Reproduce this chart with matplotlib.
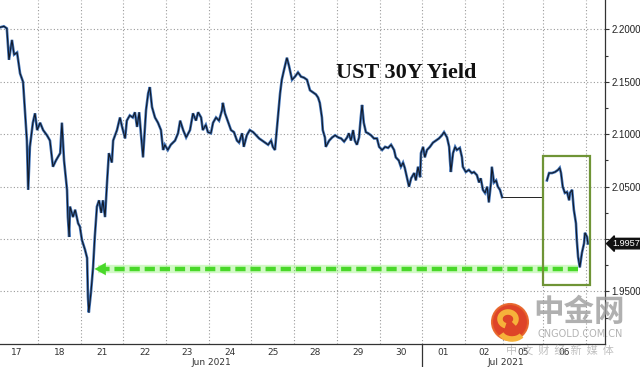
import numpy as np
import matplotlib
matplotlib.use("Agg")
import matplotlib.pyplot as plt
from matplotlib.patches import Rectangle, Circle, Arc
from matplotlib.transforms import blended_transform_factory

# ---- data (x = trading-session index, y = yield %) ----
day_labels = ["17", "18", "21", "22", "23", "24", "25", "28", "29", "30",
              "01", "02", "05", "06"]
day_edges = [0.11, 1, 2, 3, 4, 5, 6, 7, 8, 9, 9.99, 11, 11.89, 12.83, 13.83]
month_labels = ["Jun 2021", "Jul 2021"]
month_centers = [5.05, 11.96]
month_break = 9.99

x_main = [0.11, 0.20, 0.27, 0.32, 0.39, 0.44, 0.51, 0.58, 0.65, 0.74, 0.77, 0.81,
          0.88, 0.93, 0.98, 1.05, 1.12, 1.21, 1.28, 1.35, 1.42, 1.52, 1.56, 1.61,
          1.68, 1.70, 1.73, 1.75, 1.82, 1.87, 1.94, 1.98, 2.03, 2.10, 2.15, 2.17,
          2.19, 2.24, 2.29, 2.33, 2.38, 2.43, 2.48, 2.52, 2.57, 2.62, 2.66, 2.73,
          2.76, 2.85, 2.92, 2.97, 3.04, 3.08, 3.15, 3.22, 3.27, 3.32, 3.37, 3.41,
          3.46, 3.53, 3.58, 3.62, 3.67, 3.74, 3.81, 3.88, 3.93, 3.97, 4.04, 4.11,
          4.21, 4.28, 4.33, 4.40, 4.47, 4.56, 4.63, 4.70, 4.75, 4.82, 4.86, 4.93,
          4.98, 5.05, 5.10, 5.17, 5.24, 5.31, 5.33, 5.38, 5.45, 5.52, 5.59, 5.66,
          5.71, 5.78, 5.82, 5.89, 5.96, 6.04, 6.11, 6.18, 6.25, 6.32, 6.39, 6.46,
          6.50, 6.55, 6.57, 6.62, 6.67, 6.71, 6.76, 6.83, 6.88, 6.95, 7.02, 7.09,
          7.16, 7.23, 7.30, 7.37, 7.44, 7.51, 7.56, 7.60, 7.65, 7.67, 7.72, 7.74,
          7.82, 7.89, 7.96, 8.03, 8.10, 8.17, 8.24, 8.28, 8.33, 8.38, 8.42, 8.47,
          8.52, 8.56, 8.59, 8.63, 8.68, 8.73, 8.80, 8.87, 8.94, 8.99, 9.06, 9.13,
          9.20, 9.27, 9.34, 9.38, 9.45, 9.50, 9.55, 9.59, 9.64, 9.69, 9.74, 9.81,
          9.85, 9.90, 9.95, 9.97, 10.02, 10.06, 10.11, 10.18, 10.25, 10.32, 10.39,
          10.46, 10.51, 10.58, 10.63, 10.65, 10.67, 10.72, 10.77, 10.81, 10.88,
          10.93, 10.95, 11.02, 11.09, 11.16, 11.21, 11.28, 11.33, 11.37, 11.42,
          11.47, 11.52, 11.56, 11.61, 11.63, 11.68, 11.73, 11.77, 11.82, 11.87]
y_main = [2.202, 2.203, 2.201, 2.171, 2.190, 2.176, 2.178, 2.158, 2.150, 2.094,
          2.047, 2.088, 2.111, 2.120, 2.104, 2.111, 2.104, 2.099, 2.094, 2.069,
          2.075, 2.082, 2.111, 2.075, 2.047, 2.021, 2.002, 2.031, 2.021, 2.028,
          2.015, 2.012, 1.999, 1.990, 1.982, 1.945, 1.930, 1.949, 1.973, 2.002,
          2.031, 2.037, 2.025, 2.037, 2.021, 2.056, 2.082, 2.073, 2.094, 2.104,
          2.116, 2.107, 2.096, 2.113, 2.118, 2.116, 2.121, 2.107, 2.121, 2.101,
          2.078, 2.123, 2.139, 2.145, 2.126, 2.116, 2.111, 2.104, 2.085, 2.090,
          2.085, 2.090, 2.094, 2.101, 2.113, 2.104, 2.097, 2.104, 2.120, 2.113,
          2.121, 2.116, 2.104, 2.109, 2.102, 2.101, 2.111, 2.116, 2.113, 2.123,
          2.130, 2.120, 2.112, 2.104, 2.102, 2.094, 2.092, 2.101, 2.088, 2.099,
          2.104, 2.102, 2.099, 2.096, 2.094, 2.092, 2.090, 2.094, 2.088, 2.085,
          2.094, 2.116, 2.139, 2.152, 2.161, 2.173, 2.165, 2.152, 2.155, 2.159,
          2.155, 2.154, 2.152, 2.142, 2.140, 2.138, 2.135, 2.130, 2.116, 2.104,
          2.097, 2.088, 2.094, 2.097, 2.099, 2.097, 2.096, 2.093, 2.097, 2.101,
          2.094, 2.104, 2.094, 2.090, 2.097, 2.116, 2.128, 2.111, 2.102, 2.101,
          2.099, 2.096, 2.096, 2.088, 2.085, 2.088, 2.087, 2.090, 2.085, 2.078,
          2.075, 2.069, 2.073, 2.068, 2.059, 2.050, 2.058, 2.063, 2.056, 2.069,
          2.059, 2.082, 2.088, 2.078, 2.085, 2.088, 2.092, 2.094, 2.096, 2.099,
          2.102, 2.097, 2.088, 2.075, 2.064, 2.082, 2.088, 2.085, 2.087, 2.078,
          2.069, 2.064, 2.066, 2.063, 2.064, 2.061, 2.054, 2.058, 2.047, 2.044,
          2.050, 2.035, 2.054, 2.069, 2.054, 2.056, 2.050, 2.047, 2.040]
# US holiday (Jul 5): flat, thin carry-forward line
x_flat = [11.87, 12.83]
y_flat = [2.040, 2.040]
x_jul6 = [12.92, 12.97, 13.04, 13.11, 13.18, 13.22, 13.25, 13.29, 13.34, 13.39,
          13.44, 13.46, 13.51, 13.55, 13.60, 13.62, 13.65, 13.69, 13.74, 13.79,
          13.81, 13.86, 13.88]
y_jul6 = [2.056, 2.063, 2.063, 2.064, 2.066, 2.068, 2.063, 2.050, 2.044, 2.045,
          2.037, 2.044, 2.047, 2.028, 2.015, 1.999, 1.983, 1.973, 1.987, 1.996,
          2.006, 2.002, 1.9957]
last_value = 1.9957
arrow_level = 1.9715
arrow_from, arrow_to = 13.65, 2.26
box_x = (12.83, 13.93)
box_y = (1.9562, 2.0793)

yticks = [1.95, 2.00, 2.05, 2.10, 2.15, 2.20]
ylabels = ["1.9500", "", "2.0500", "2.1000", "2.1500", "2.2000"]
yminor = [1.925, 1.975, 2.025, 2.075, 2.125, 2.175]

# ---- figure ----
W, H = 640, 367
fig = plt.figure(figsize=(W / 100, H / 100), dpi=100)
fig.patch.set_facecolor("white")
ax = fig.add_axes([0, 23 / H, 605 / W, 344 / H])
ax.set_facecolor("white")
ax.set_xlim(0.11, 14.28)
ax.set_ylim(1.8999, 2.2281)

for s in ["top", "left"]:
    ax.spines[s].set_visible(False)
for s in ["bottom", "right"]:
    ax.spines[s].set_color("#333333")
    ax.spines[s].set_linewidth(0.9)

grid_kw = dict(color="#9a9a9a", linestyle=(0, (1, 2)), linewidth=0.8, zorder=0)
for yv in yticks:
    ax.axhline(yv, **grid_kw)
for xv in day_edges[1:]:
    ax.axvline(xv, **grid_kw)

# series: blue halo under a dark core line
line_kw = dict(solid_joinstyle="miter", zorder=3)
ax.plot(x_main, y_main, color="#3f72b8", lw=1.9, **line_kw)
ax.plot(x_main, y_main, color="#121a28", lw=0.8, **line_kw)
ax.plot(x_flat, y_flat, color="#222222", lw=0.7, zorder=3)
ax.plot(x_jul6, y_jul6, color="#3f72b8", lw=1.9, **line_kw)
ax.plot(x_jul6, y_jul6, color="#121a28", lw=0.8, **line_kw)

# green dashed arrow with glow
ax.plot([arrow_from, arrow_to + 0.15], [arrow_level, arrow_level],
        color="#7cf05a", lw=6, alpha=0.35, solid_capstyle="butt", zorder=4)
ax.plot([arrow_from, arrow_to + 0.15], [arrow_level, arrow_level],
        color="#49d829", lw=3.2, linestyle=(0, (2.3, 1.1)), zorder=5)
ax.annotate("", xy=(arrow_to, arrow_level), xytext=(arrow_to + 0.3, arrow_level),
            arrowprops=dict(arrowstyle="-|>,head_length=0.8,head_width=0.45",
                            color="#49d829", lw=0.1), zorder=6)

# highlight box
ax.add_patch(Rectangle((box_x[0], box_y[0]), box_x[1] - box_x[0], box_y[1] - box_y[0],
                       fill=False, edgecolor="#6f9436", lw=1.6, zorder=6))

# title
ax.text(7.98, 2.1588, "UST 30Y Yield", family="Liberation Serif",
        fontsize=16, fontweight="bold", color="#111111", ha="left", va="center",
        zorder=7)

# right axis ticks
ax.yaxis.tick_right()
ax.set_yticks(yticks)
ax.set_yticklabels(ylabels)
ax.set_yticks(yminor, minor=True)
ax.tick_params(axis="y", which="major", direction="out", length=3, width=0.8,
               pad=1.5, labelsize=7, labelcolor="#222222", color="#333333")
ax.tick_params(axis="y", which="minor", direction="out", length=2, width=0.8,
               color="#333333")
for lab in ax.get_yticklabels():
    lab.set_family("Liberation Sans")

# last value tag
ax.annotate(f"{last_value:.4f}", xy=(1.0, last_value), xycoords=("axes fraction", "data"),
            xytext=(5, 0), textcoords="offset points", ha="left", va="center",
            fontsize=6.6, color="white", family="Liberation Sans", annotation_clip=False,
            bbox=dict(boxstyle="larrow,pad=0.08", fc="#111111", ec="#111111"))

# x axis: day labels at session centres, month labels below
centers = [(a + b) / 2 for a, b in zip(day_edges[:-1], day_edges[1:])]
centers[0] = 0.5
ax.set_xticks(day_edges[1:])
ax.set_xticklabels([])
ax.tick_params(axis="x", which="major", length=0)
trans = blended_transform_factory(ax.transData, ax.transAxes)
for c, lab in zip(centers, day_labels):
    ax.text(c, -0.024, lab, transform=trans, ha="center", va="center",
            fontsize=6.5, color="#333333", clip_on=False)
for c, lab in zip(month_centers, month_labels):
    ax.text(c, -0.055, lab, transform=trans, ha="center", va="center",
            fontsize=6.5, color="#333333", clip_on=False)
ax.plot([month_break, month_break], [0, -0.07], transform=trans, color="#333333",
        lw=0.9, clip_on=False)

# watermark
fig.patches.append(Circle((510, H - 322), 18, transform=None, fc="#dd3a1c",
                          ec="#e8652a", lw=1.5, alpha=0.95, zorder=8))
fig.patches.append(Arc((508, H - 319), 16, 14, theta1=-40, theta2=250, transform=None,
                       color="#f6b23a", lw=4, zorder=9))
fig.patches.append(Arc((512, H - 330), 24, 18, theta1=200, theta2=330, transform=None,
                       color="#f6b23a", lw=4, zorder=9))
fig.text(579 / W, 1 - 312 / H, "中金网", family=["Noto Sans CJK SC", "DejaVu Sans"],
         fontsize=22, fontweight="bold", color="#9c9c9c", ha="center", va="center",
         alpha=0.8, zorder=9)
fig.text(580 / W, 1 - 334 / H, "CNGOLD.COM.CN", family="DejaVu Sans", fontsize=7,
         color="#a6a6a6", ha="center", va="center", alpha=0.85, zorder=9)
fig.text(560 / W, 1 - 350 / H, "中  文  财  经  新  媒  体",
         family=["Noto Sans CJK SC", "DejaVu Sans"], fontsize=8, color="#a6a6a6",
         ha="center", va="center", alpha=0.7, zorder=9)

fig.savefig("out.png", dpi=100, facecolor="white")
